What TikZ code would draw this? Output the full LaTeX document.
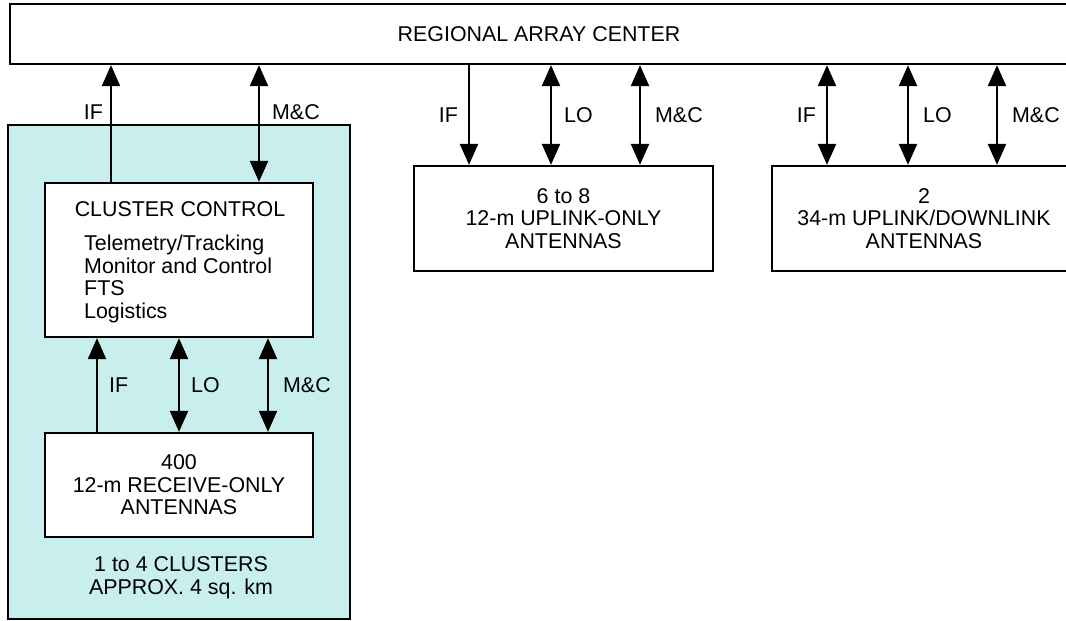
\documentclass[tikz,border=0pt]{standalone}
\usepackage{fontspec}
\setmainfont{Liberation Sans}
\usetikzlibrary{arrows.meta}

\definecolor{clustercyan}{RGB}{200,239,238}

\tikzset{
  blk/.style={draw, line width=2.3pt, fill=white, inner sep=0pt, align=center},
  sig/.style={line width=2.3pt, -{Triangle[width=18pt,length=21pt]}},
  bisig/.style={line width=2.3pt, {Triangle[width=18pt,length=21pt]}-{Triangle[width=18pt,length=21pt]}},
  lbl/.style={inner sep=0pt}
}

\begin{document}
\begin{tikzpicture}[x=1pt, y=-1pt, font=\fontsize{21.4}{22.6}\selectfont]
    \useasboundingbox (0,0) rectangle (1066,621);

    %% cluster area
    \node[draw, line width=2.3pt, fill=clustercyan, minimum width=342pt, minimum height=494pt] (clu) at (179,372) {};
    \node[lbl, align=center] (clulbl) at (181,578) {1 to 4 CLUSTERS\\APPROX. 4 sq. km};

    %% boxes
    \node[blk, minimum width=1058pt, minimum height=60pt] (rac) at (539,34) {REGIONAL ARRAY CENTER};
    \node[blk, minimum width=268pt, minimum height=154pt] (cc) at (179,260) {};
    \node[lbl] (cctitle) at (180,209) {CLUSTER CONTROL};
    \node[lbl, anchor=west, align=left] (cclist) at (84,279)
      {Telemetry/Tracking\\Monitor and Control\\FTS\\Logistics};
    \node[blk, minimum width=268pt, minimum height=104pt] (rx) at (179,485)
      {400\\12-m RECEIVE-ONLY\\ANTENNAS};
    \node[blk, minimum width=299pt, minimum height=105pt] (ul) at (563.5,218.5)
      {6 to 8\\12-m UPLINK-ONLY\\ANTENNAS};
    \node[blk, minimum width=304pt, minimum height=105pt] (dl) at (924,218.5)
      {2\\34-m UPLINK/DOWNLINK\\ANTENNAS};

    %% cluster control <-> regional array center
    \draw[sig] (cc.north -| 111,0) -- (rac.south -| 111,0) node[lbl, pos=0.6, left=7pt] {IF};
    \draw[bisig] (cc.north -| 259,0) -- (rac.south -| 259,0) node[lbl, pos=0.6, right=12pt] {M\&C};

    %% antennas <-> cluster control
    \draw[sig] (rx.north -| 97,0) -- (cc.south -| 97,0) node[lbl, midway, right=11pt] {IF};
    \draw[bisig] (rx.north -| 179,0) -- (cc.south -| 179,0) node[lbl, midway, right=11pt] {LO};
    \draw[bisig] (rx.north -| 268,0) -- (cc.south -| 268,0) node[lbl, midway, right=14pt] {M\&C};

    %% uplink-only antennas
    \draw[sig] (rac.south -| 469,0) -- (ul.north -| 469,0) node[lbl, midway, left=10pt] {IF};
    \draw[bisig] (rac.south -| 551,0) -- (ul.north -| 551,0) node[lbl, midway, right=12pt] {LO};
    \draw[bisig] (rac.south -| 640,0) -- (ul.north -| 640,0) node[lbl, midway, right=14pt] {M\&C};

    %% uplink/downlink antennas
    \draw[bisig] (rac.south -| 827,0) -- (dl.north -| 827,0) node[lbl, midway, left=10pt] {IF};
    \draw[bisig] (rac.south -| 908,0) -- (dl.north -| 908,0) node[lbl, midway, right=14pt] {LO};
    \draw[bisig] (rac.south -| 997,0) -- (dl.north -| 997,0) node[lbl, midway, right=14pt] {M\&C};
\end{tikzpicture}
\end{document}
